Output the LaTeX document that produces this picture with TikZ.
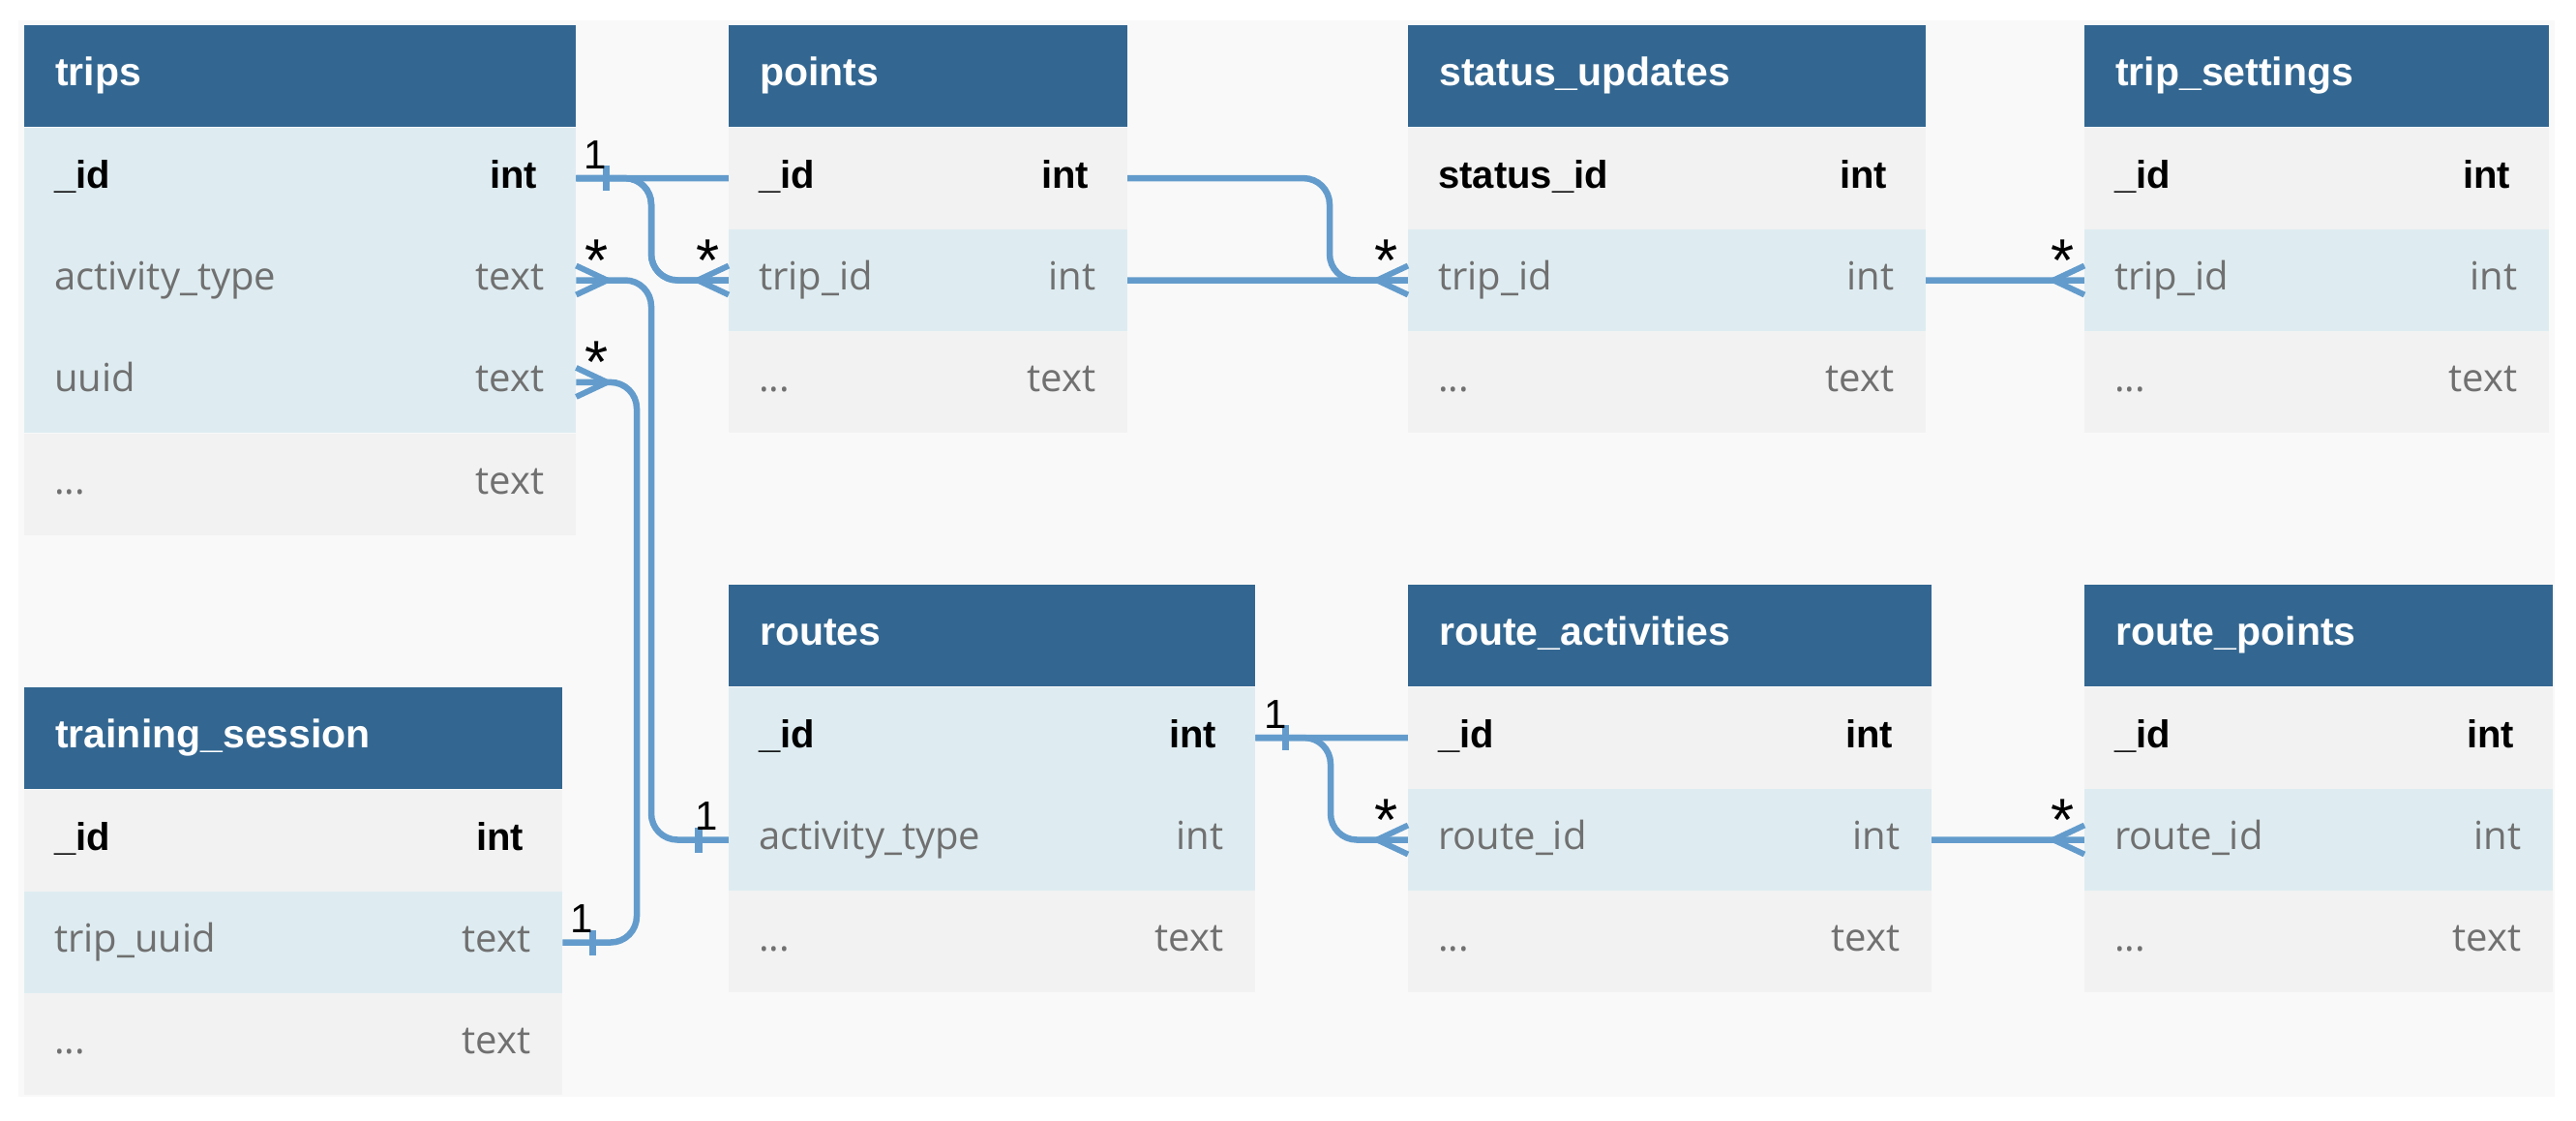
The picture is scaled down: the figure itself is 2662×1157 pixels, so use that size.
\documentclass[tikz,border=0pt]{standalone}
\usepackage{fontspec}
\setmainfont{Liberation Sans}
\newfontfamily\osans{Open Sans}
\usetikzlibrary{calc}
\pgfdeclarelayer{behind}
\pgfsetlayers{behind,main}
\definecolor{hdrblue}{HTML}{336791}
\definecolor{linec}{HTML}{639CCC}
\definecolor{rowblue}{HTML}{DEECF1}
\definecolor{rowgray}{HTML}{F2F2F2}
\definecolor{bggray}{HTML}{F9F9F9}
\definecolor{txtgray}{HTML}{707070}
\tikzset{
  hdrbox/.style={rectangle, fill=hdrblue, draw=none, inner sep=0, minimum height=105},
  rowbox/.style={rectangle, draw=none, inner sep=0, minimum height=105},
  hdrtext/.style={font=\fontsize{41}{49}\selectfont\bfseries, text=white, inner sep=0},
  keytext/.style={font=\fontsize{40}{48}\selectfont\bfseries, text=black, inner sep=0},
  normtext/.style={font=\osans\fontsize{40}{48}\selectfont, text=txtgray, inner sep=0},
  lbl/.style={font=\fontsize{42}{50}\selectfont, text=black, inner sep=0, anchor=base},
  starlbl/.style={font=\fontsize{62}{70}\selectfont, text=black, inner sep=0, anchor=base},
  rel/.style={draw=linec, line width=6.5, rounded corners=27},
  prong/.style={draw=linec, line width=6},
  barmark/.style={draw=linec, line width=7.5},
}
\newcommand{\ehead}[5]{%
  \node[hdrbox, minimum width=#4, anchor=north west] (#1) at (#2,#3) {};
  \node[hdrtext, anchor=base west] (#1-title) at ($(#1.west)+(32,10)$) {#5};
}
\newcommand{\erow}[8]{%
  \node[rowbox, fill=#4, minimum width=#3, anchor=north west] (#1) at (#2.south west) {};
  \node[#5, anchor=base west] (#1-l) at ($(#1.west)+(31,10)$) {#6};
  \node[#5, anchor=base east] (#1-r) at ($(#1.east)+(-#8,10)$) {#7};
}
\newcommand{\crow}[2]{%
  \draw[prong] ($(#1)+(#2*32,0)$) -- ($(#1)+(0,-15)$);
  \draw[prong] ($(#1)+(#2*32,0)$) -- ($(#1)+(0,15)$);
}
\newcommand{\onebar}[2]{%
  \draw[barmark] ($(#1)+(#2*31,-13)$) -- ($(#1)+(#2*31,13)$);
}
\begin{document}
\begin{tikzpicture}[x=1pt,y=-1pt]
\useasboundingbox (0,0) rectangle (2662,1157);

% lanes for connectors
\coordinate (laneA) at (673,0);
\coordinate (laneB) at (658,0);
\coordinate (laneC) at (1374,0);
\coordinate (laneD) at (1375,0);
\coordinate (laneE) at (1700,0);

% ---- tables ----
% trips
\ehead{trips}{25}{26}{570}{trips}
\erow{trips-1}{trips}{570}{rowblue}{keytext}{\_id}{int}{40}
\erow{trips-2}{trips-1}{570}{rowblue}{normtext}{activity\_type}{text}{33}
\erow{trips-3}{trips-2}{570}{rowblue}{normtext}{uuid}{text}{33}
\erow{trips-4}{trips-3}{570}{rowgray}{normtext}{...}{text}{33}
% points
\ehead{points}{753}{26}{412}{points}
\erow{points-1}{points}{412}{rowgray}{keytext}{\_id}{int}{40}
\erow{points-2}{points-1}{412}{rowblue}{normtext}{trip\_id}{int}{33}
\erow{points-3}{points-2}{412}{rowgray}{normtext}{...}{text}{33}
% status_updates
\ehead{stat}{1455}{26}{535}{status\_updates}
\erow{stat-1}{stat}{535}{rowgray}{keytext}{status\_id}{int}{40}
\erow{stat-2}{stat-1}{535}{rowblue}{normtext}{trip\_id}{int}{33}
\erow{stat-3}{stat-2}{535}{rowgray}{normtext}{...}{text}{33}
% trip_settings
\ehead{tset}{2154}{26}{480}{trip\_settings}
\erow{tset-1}{tset}{480}{rowgray}{keytext}{\_id}{int}{40}
\erow{tset-2}{tset-1}{480}{rowblue}{normtext}{trip\_id}{int}{33}
\erow{tset-3}{tset-2}{480}{rowgray}{normtext}{...}{text}{33}
% routes
\ehead{routes}{753}{604}{544}{routes}
\erow{routes-1}{routes}{544}{rowblue}{keytext}{\_id}{int}{40}
\erow{routes-2}{routes-1}{544}{rowblue}{normtext}{activity\_type}{int}{33}
\erow{routes-3}{routes-2}{544}{rowgray}{normtext}{...}{text}{33}
% route_activities
\ehead{ract}{1455}{604}{541}{route\_activities}
\erow{ract-1}{ract}{541}{rowgray}{keytext}{\_id}{int}{40}
\erow{ract-2}{ract-1}{541}{rowblue}{normtext}{route\_id}{int}{33}
\erow{ract-3}{ract-2}{541}{rowgray}{normtext}{...}{text}{33}
% route_points
\ehead{rpts}{2154}{604}{484}{route\_points}
\erow{rpts-1}{rpts}{484}{rowgray}{keytext}{\_id}{int}{40}
\erow{rpts-2}{rpts-1}{484}{rowblue}{normtext}{route\_id}{int}{33}
\erow{rpts-3}{rpts-2}{484}{rowgray}{normtext}{...}{text}{33}
% training_session
\ehead{train}{25}{710}{556}{training\_session}
\erow{train-1}{train}{556}{rowgray}{keytext}{\_id}{int}{40}
\erow{train-2}{train-1}{556}{rowblue}{normtext}{trip\_uuid}{text}{33}
\erow{train-3}{train-2}{556}{rowgray}{normtext}{...}{text}{33}

% ---- background and connectors (behind the tables) ----
\begin{pgfonlayer}{behind}
\fill[white] (0,0) rectangle (2662,1157);
\fill[bggray] (19,21) rectangle (2640,1133);
\draw[rel] (trips-1.east) -- (trips-1.east -| laneA) -- (points-2.west -| laneA) -- (points-2.west);
\draw[rel] (trips-1.east) -- (trips-1.east -| laneA) -- (tset-2.west -| laneA) -- (tset-2.west);
\draw[rel] (trips-1.east) -- (trips-1.east -| laneC) -- (stat-2.west -| laneC) -- (stat-2.west);
\draw[rel] (trips-2.east) -- (trips-2.east -| laneA) -- (routes-2.west -| laneA) -- (routes-2.west);
\draw[rel] (trips-3.east) -- (trips-3.east -| laneB) -- (train-2.east -| laneB) -- (train-2.east);
\draw[rel] (routes-1.east) -- (routes-1.east -| laneD) -- (ract-2.west -| laneD) -- (ract-2.west);
\draw[rel] (routes-1.east) -- (routes-1.east -| laneE) -- (rpts-2.west -| laneE) -- (rpts-2.west);
\end{pgfonlayer}

% ---- end markers ----
\onebar{trips-1.east}{1}
\onebar{routes-1.east}{1}
\onebar{train-2.east}{1}
\onebar{routes-2.west}{-1}
\crow{trips-2.east}{1}
\crow{trips-3.east}{1}
\crow{points-2.west}{-1}
\crow{stat-2.west}{-1}
\crow{tset-2.west}{-1}
\crow{ract-2.west}{-1}
\crow{rpts-2.west}{-1}

% ---- cardinality labels ----
\node[lbl] (l1) at ($(trips-1.east)+(20,-10)$) {1};
\node[starlbl] (l2) at ($(trips-2.east)+(21,1)$) {*};
\node[starlbl] (l3) at ($(trips-3.east)+(21,1)$) {*};
\node[starlbl] (l4) at ($(points-2.west)+(-21,1)$) {*};
\node[starlbl] (l5) at ($(stat-2.west)+(-22,1)$) {*};
\node[starlbl] (l6) at ($(tset-2.west)+(-22,1)$) {*};
\node[lbl] (l7) at ($(routes-1.east)+(21,-10)$) {1};
\node[lbl] (l8) at ($(routes-2.west)+(-23,-10)$) {1};
\node[lbl] (l9) at ($(train-2.east)+(20,-10)$) {1};
\node[starlbl] (l10) at ($(ract-2.west)+(-22,1)$) {*};
\node[starlbl] (l11) at ($(rpts-2.west)+(-22,1)$) {*};
\end{tikzpicture}
\end{document}
